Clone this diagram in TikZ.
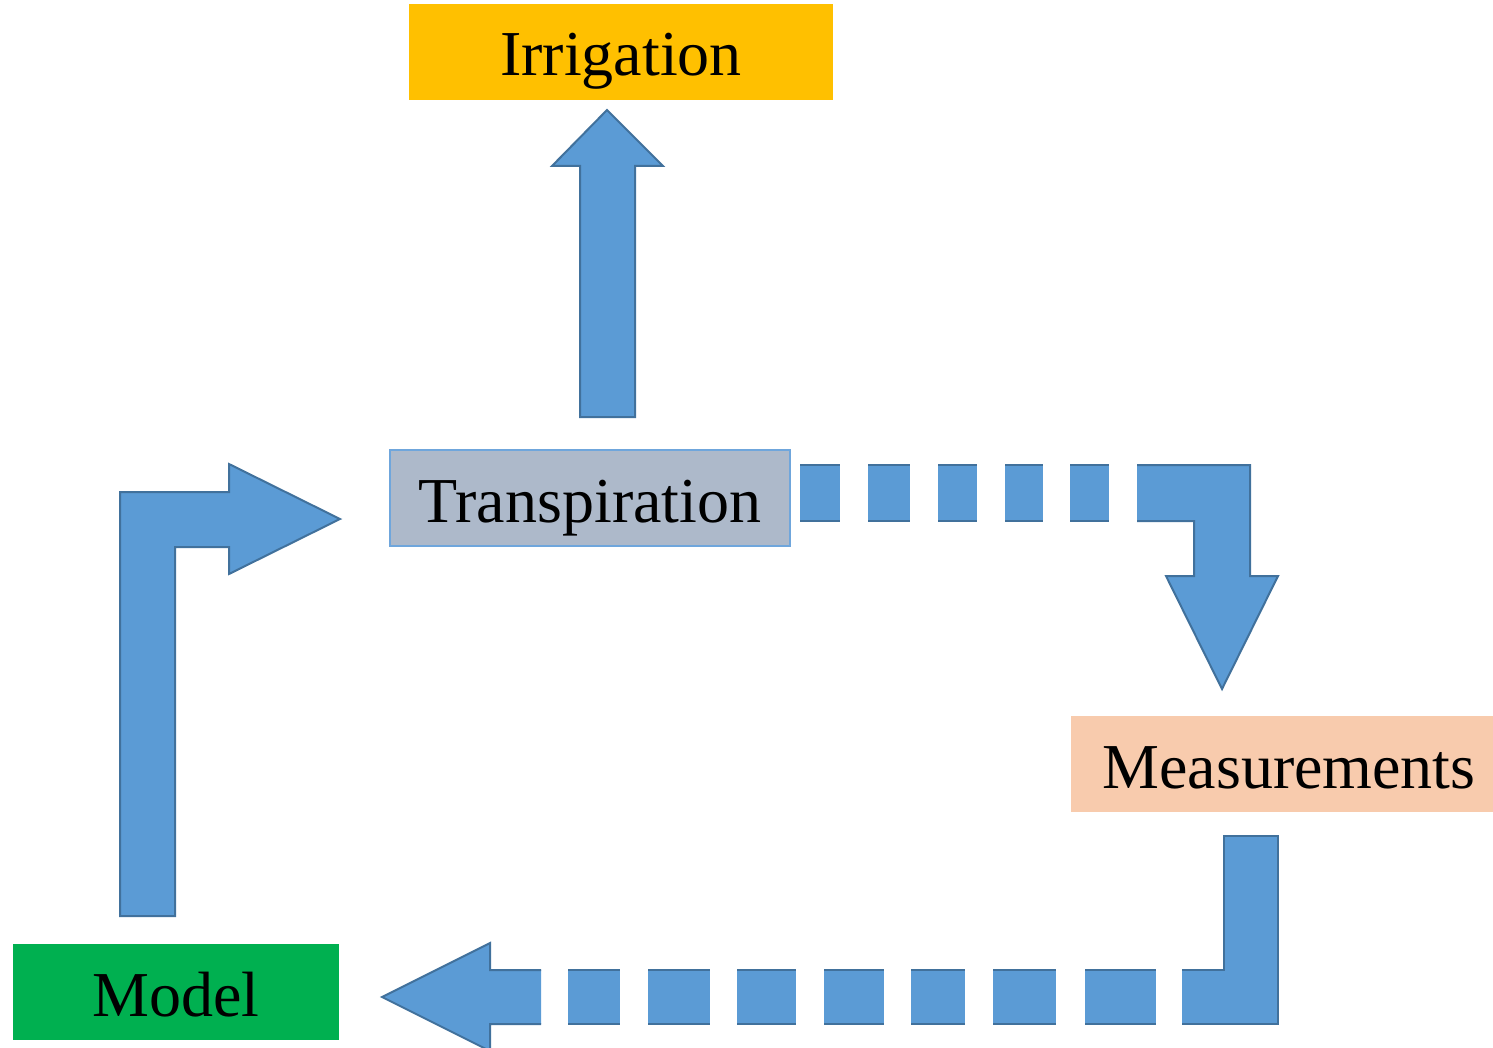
\documentclass[tikz,border=0pt]{standalone}
\usepackage{fontspec}
\setmainfont{Liberation Serif}
\definecolor{afill}{HTML}{5B9BD5}
\definecolor{aline}{HTML}{41719C}
\definecolor{irrc}{HTML}{FFC000}
\definecolor{trac}{HTML}{ADB9CA}
\definecolor{trab}{HTML}{6FA6DC}
\definecolor{meac}{HTML}{F8CBAD}
\definecolor{modc}{HTML}{00B050}
\begin{document}
\begin{tikzpicture}[x=1pt,y=-1pt,
  lbl/.style={rectangle, inner sep=0pt, text height=48pt, text depth=0pt,
    minimum height=96pt, font=\fontsize{64}{77}\selectfont, anchor=center},
  barrow/.style={fill=afill, draw=aline, line width=2pt, line join=miter},
  afilled/.style={fill=afill},
  aedge/.style={draw=aline, line width=2pt}]
\useasboundingbox (0,0) rectangle (1493,1048);

% label boxes
\node[lbl, fill=irrc, minimum width=424pt] (irr) at (621,52) {Irrigation};
\node[lbl, fill=trac, draw=trab, line width=1.5pt, minimum width=400pt] (tra) at (590,498) {Transpiration};
\node[lbl, fill=meac, minimum width=422pt] (mea) at (1282,764) {\hspace*{14pt}Measurements};
\node[lbl, fill=modc, minimum width=326pt] (mod) at (176,992) {Model};

% up arrow: Transpiration -> Irrigation
\draw[barrow] (580,417) -- (580,166) -- (552,166) -- (607,110) -- (663,166)
  -- (635,166) -- (635,417) -- cycle;

% bent arrow: Model -> Transpiration
\draw[barrow] (120,916) -- (120,492) -- (229,492) -- (229,464) -- (340,519)
  -- (229,574) -- (229,547) -- (175,547) -- (175,916) -- cycle;

% dashed bent arrow: Transpiration -> Measurements
\foreach \a/\b in {800/840, 868/910, 938/977, 1005/1043, 1070/1109}{
  \fill[afilled] (\a,465) rectangle (\b,521);
  \draw[aedge] (\a,465) -- (\b,465);
  \draw[aedge] (\a,521) -- (\b,521);
}
\fill[afilled] (1137,465) -- (1250,465) -- (1250,576) -- (1278,576) -- (1222,689)
  -- (1166,576) -- (1194,576) -- (1194,521) -- (1137,521) -- cycle;
\draw[aedge, line join=miter] (1137,465) -- (1250,465) -- (1250,576) -- (1278,576) -- (1222,689)
  -- (1166,576) -- (1194,576) -- (1194,521) -- (1137,521);

% dashed bent arrow: Measurements -> Model
\fill[afilled] (1182,970) -- (1224,970) -- (1224,836) -- (1278,836) -- (1278,1024)
  -- (1182,1024) -- cycle;
\draw[aedge, line join=miter] (1182,970) -- (1224,970) -- (1224,836) -- (1278,836)
  -- (1278,1024) -- (1182,1024);
\foreach \a/\b in {568/620, 648/710, 737/796, 824/884, 911/965, 993/1056, 1085/1156}{
  \fill[afilled] (\a,970) rectangle (\b,1024);
  \draw[aedge] (\a,970) -- (\b,970);
  \draw[aedge] (\a,1024) -- (\b,1024);
}
\fill[afilled] (541,970) -- (490,970) -- (490,943) -- (382,997) -- (490,1051)
  -- (490,1024) -- (541,1024) -- cycle;
\draw[aedge, line join=miter] (541,970) -- (490,970) -- (490,943) -- (382,997)
  -- (490,1051) -- (490,1024) -- (541,1024);
\end{tikzpicture}
\end{document}
